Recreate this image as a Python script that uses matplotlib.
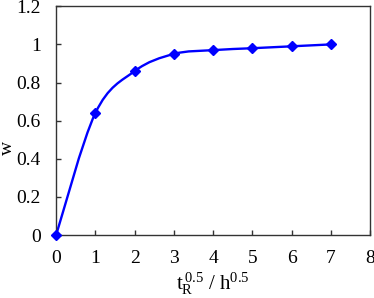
import matplotlib
matplotlib.use("Agg")
import matplotlib.pyplot as plt
from matplotlib.path import Path
from matplotlib.patches import PathPatch
import numpy as np

x_vals = [0, 1, 2, 3, 4, 5, 6, 7]
w_vals = [0.0, 0.64, 0.86, 0.95, 0.97, 0.98, 0.99, 1.0]
x_ticks = [0, 1, 2, 3, 4, 5, 6, 7, 8]
y_ticks = [0, 0.2, 0.4, 0.6, 0.8, 1.0, 1.2]
y_tick_labels = ["0", "0.2", "0.4", "0.6", "0.8", "1", "1.2"]

plt.rcParams['font.family'] = ['Liberation Serif', 'DejaVu Serif']
plt.rcParams['mathtext.fontset'] = 'custom'
plt.rcParams['mathtext.rm'] = 'Liberation Serif'

fig = plt.figure(figsize=(3.74, 2.98), dpi=100)
ax = fig.add_axes([0.150, 0.211, 0.840, 0.768])

# smoothed line (Catmull-Rom style bezier, like a spreadsheet "smoothed line")
pts = np.column_stack([x_vals, w_vals]).astype(float)
verts = [pts[0]]
codes = [Path.MOVETO]
n = len(pts)
for i in range(n - 1):
    p0 = pts[i - 1] if i > 0 else pts[i]
    p1 = pts[i]
    p2 = pts[i + 1]
    p3 = pts[i + 2] if i + 2 < n else pts[i + 1]
    c1 = p1 + (p2 - p0) / 6.0
    c2 = p2 - (p3 - p1) / 6.0
    verts += [c1, c2, p2]
    codes += [Path.CURVE4] * 3
ax.add_patch(PathPatch(Path(verts, codes), facecolor='none', edgecolor='#0000ff', lw=1.7, zorder=2))
ax.plot(x_vals, w_vals, linestyle='none', marker='D', markersize=5.5, color='#0000ff', zorder=3, clip_on=False)

ax.set_xlim(0, 8)
ax.set_ylim(0, 1.2)
ax.set_xticks(x_ticks)
ax.set_yticks(y_ticks)
ax.set_yticklabels(y_tick_labels)
ax.tick_params(axis='both', direction='in', length=3.5, width=1, labelsize=14, color='#333333')
ax.tick_params(axis='x', pad=11)
ax.tick_params(axis='y', pad=11)
for s in ax.spines.values():
    s.set_linewidth(1)
    s.set_color('#333333')

ax.set_xlabel(r'$\mathrm{t_R^{\,0.5}}$ / $\mathrm{h^{0.5}}$', fontsize=15, labelpad=2)
ax.set_ylabel('w', fontsize=14)
ax.yaxis.set_label_coords(-0.128, 0.38)

fig.savefig('out.png', dpi=100)
